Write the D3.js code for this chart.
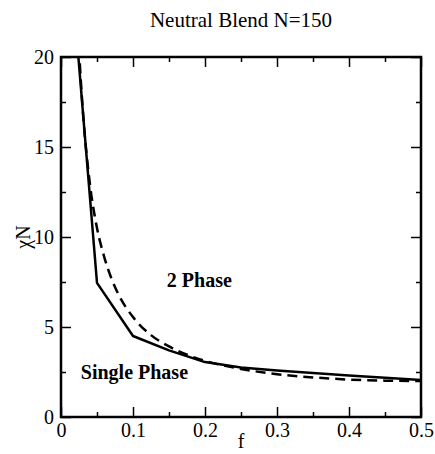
<!DOCTYPE html>
<html>
<head>
<meta charset="utf-8">
<script src="https://cdn.jsdelivr.net/npm/d3@7"></script>
<style>
  body { margin: 0; background: #fff; }
  text { font-family: "Liberation Serif", "Times New Roman", serif; fill: #000; }
</style>
</head>
<body>
<div id="chart"></div>
<script>
'use strict';

// solid curve (simulation)
var solidF   = [0.02, 0.05, 0.10, 0.15, 0.20, 0.25, 0.30, 0.35, 0.40, 0.45, 0.50];
var solidChi = [22.0, 7.45, 4.50, 3.70, 3.05, 2.75, 2.58, 2.44, 2.30, 2.18, 2.05];

// dashed curve (mean field)
var dashF   = [0.022, 0.025, 0.03, 0.04, 0.05, 0.06, 0.07, 0.08, 0.10, 0.125, 0.15, 0.175, 0.20, 0.25, 0.30, 0.35, 0.40, 0.45, 0.50];
var dashChi = [23.2, 20.5, 17.2, 13.0, 10.5, 8.9, 7.7, 6.8, 5.55, 4.55, 3.92, 3.46, 3.12, 2.67, 2.38, 2.20, 2.08, 2.02, 2.00];

var xMajor = [0, 0.1, 0.2, 0.3, 0.4, 0.5];
var xMinor = [0.05, 0.15, 0.25, 0.35, 0.45];
var yMajor = [0, 5, 10, 15, 20];
var yMinor = [2.5, 7.5, 12.5, 17.5];

var labels = [
    { text: '2 Phase', f: 0.147, chi: 7.2 },
    { text: 'Single Phase', f: 0.0275, chi: 2.1 }
];

(function() {
    var width = 435, height = 454;
    var pLeft = 61, pRight = 421, pTop = 57, pBottom = 417;

    var svg = d3.select('#chart').append('svg')
        .attr('width', width)
        .attr('height', height);

    var x = d3.scaleLinear().domain([0, 0.5]).range([pLeft, pRight]);
    var y = d3.scaleLinear().domain([0, 20]).range([pBottom, pTop]);

    svg.append('defs').append('clipPath').attr('id', 'clip')
        .append('rect')
        .attr('x', pLeft).attr('y', pTop)
        .attr('width', pRight - pLeft).attr('height', pBottom - pTop);

    function styleAxis(g) {
        g.select('.domain').remove();
        g.selectAll('.tick line').attr('stroke', '#000').attr('stroke-width', 1.5);
        g.selectAll('.tick text')
            .style('font-size', '20px')
            .style('font-family', '"Liberation Serif", serif');
    }

    // bottom
    svg.append('g').attr('transform', 'translate(0,' + pBottom + ')')
        .call(d3.axisBottom(x).tickValues(xMajor).tickSize(-10).tickPadding(6)
            .tickFormat(function(d) { return d === 0 ? '0' : d3.format('.1f')(d); }))
        .call(styleAxis);
    svg.append('g').attr('transform', 'translate(0,' + pBottom + ')')
        .call(d3.axisBottom(x).tickValues(xMinor).tickSize(-5).tickFormat(''))
        .call(styleAxis);
    // top
    svg.append('g').attr('transform', 'translate(0,' + pTop + ')')
        .call(d3.axisTop(x).tickValues(xMajor).tickSize(-10).tickFormat(''))
        .call(styleAxis);
    svg.append('g').attr('transform', 'translate(0,' + pTop + ')')
        .call(d3.axisTop(x).tickValues(xMinor).tickSize(-5).tickFormat(''))
        .call(styleAxis);
    // left
    svg.append('g').attr('transform', 'translate(' + pLeft + ',0)')
        .call(d3.axisLeft(y).tickValues(yMajor).tickSize(-10).tickPadding(7))
        .call(styleAxis);
    svg.append('g').attr('transform', 'translate(' + pLeft + ',0)')
        .call(d3.axisLeft(y).tickValues(yMinor).tickSize(-5).tickFormat(''))
        .call(styleAxis);
    // right
    svg.append('g').attr('transform', 'translate(' + pRight + ',0)')
        .call(d3.axisRight(y).tickValues(yMajor).tickSize(-10).tickFormat(''))
        .call(styleAxis);
    svg.append('g').attr('transform', 'translate(' + pRight + ',0)')
        .call(d3.axisRight(y).tickValues(yMinor).tickSize(-5).tickFormat(''))
        .call(styleAxis);

    // frame
    svg.append('rect')
        .attr('x', pLeft).attr('y', pTop)
        .attr('width', pRight - pLeft).attr('height', pBottom - pTop)
        .attr('fill', 'none').attr('stroke', '#000').attr('stroke-width', 2.5);

    var plot = svg.append('g').attr('clip-path', 'url(#clip)');

    var solidLine = d3.line()
        .x(function(d) { return x(d[0]); })
        .y(function(d) { return y(d[1]); });

    var dashLine = d3.line().curve(d3.curveMonotoneX)
        .x(function(d) { return x(d[0]); })
        .y(function(d) { return y(d[1]); });

    plot.append('path')
        .datum(d3.zip(dashF, dashChi))
        .attr('d', dashLine)
        .attr('fill', 'none').attr('stroke', '#000')
        .attr('stroke-width', 2.5)
        .attr('stroke-dasharray', '10,6');

    plot.append('path')
        .datum(d3.zip(solidF, solidChi))
        .attr('d', solidLine)
        .attr('fill', 'none').attr('stroke', '#000')
        .attr('stroke-width', 2.5)
        .attr('stroke-linejoin', 'round');

    svg.selectAll('.region').data(labels).enter().append('text')
        .attr('class', 'region')
        .attr('x', function(d) { return x(d.f); })
        .attr('y', function(d) { return y(d.chi); })
        .style('font-size', '20px')
        .style('font-weight', 'bold')
        .text(function(d) { return d.text; });

    // title
    svg.append('text')
        .attr('x', 241).attr('y', 27)
        .attr('text-anchor', 'middle')
        .style('font-size', '21px')
        .text('Neutral Blend N=150');

    // axis labels
    svg.append('text')
        .attr('x', x(0.25)).attr('y', 448)
        .attr('text-anchor', 'middle')
        .style('font-size', '20px')
        .text('f');

    svg.append('text')
        .attr('transform', 'translate(30,' + ((pTop + pBottom) / 2) + ') rotate(-90)')
        .attr('text-anchor', 'middle')
        .style('font-size', '20px')
        .text('χN');
})();
</script>
</body>
</html>
